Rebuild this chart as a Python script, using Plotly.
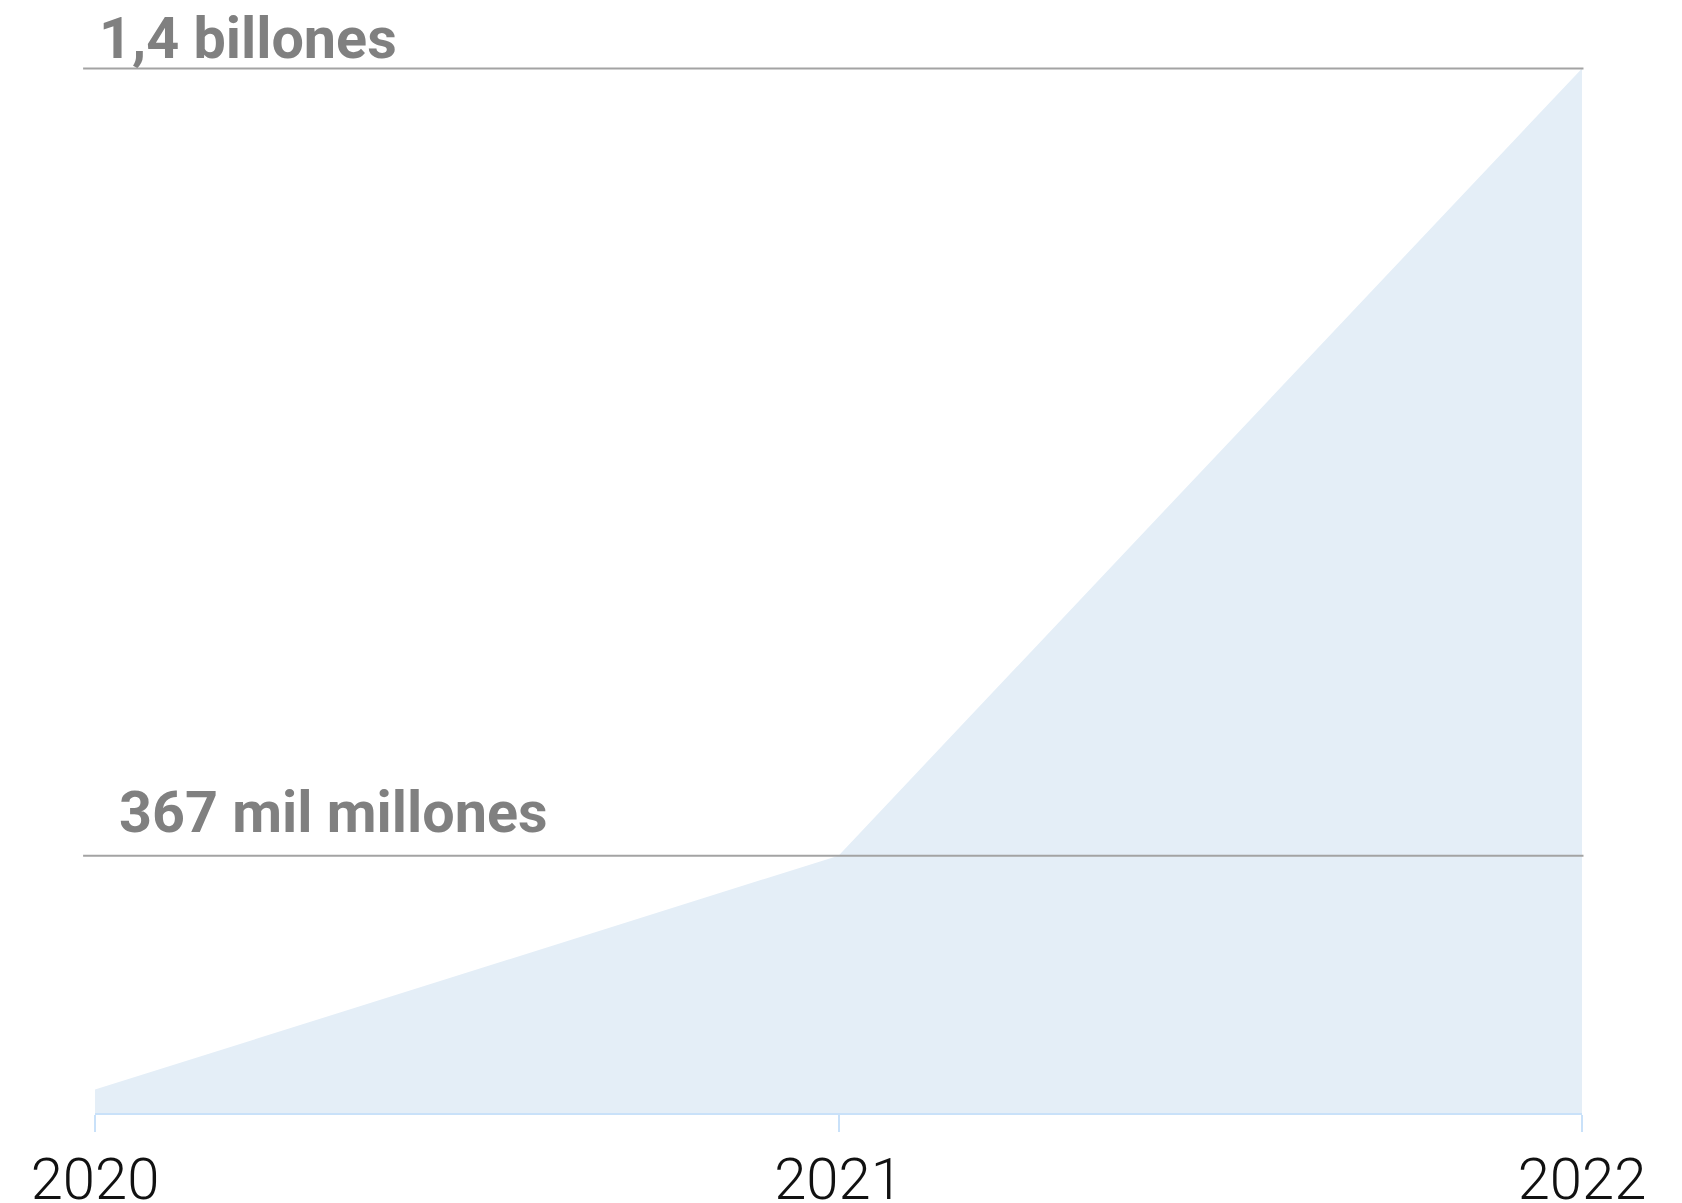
import plotly.graph_objects as go

# Data (values in "mil millones")
years = [2020, 2021, 2022]
values = [60, 367, 1400]
tick_labels = ["2020", "2021", "2022"]
ref_values = [1400, 367]
ref_labels = ["1,4 billones", "367 mil millones"]

fig = go.Figure()
fig.add_trace(go.Scatter(
    x=years, y=values, mode="lines", fill="tozeroy",
    fillcolor="#E4EEF7", line=dict(width=0, color="#E4EEF7"),
    hoverinfo="skip", showlegend=False,
))

label_shift = {1400: (1.5, -6), 367: (21.5, 8)}
for v, lab in zip(ref_values, ref_labels):
    fig.add_shape(type="line", xref="paper", yref="y",
                  x0=-0.008, x1=1.001, y0=v, y1=v,
                  line=dict(color="#A3A3A3", width=2))
    xs, ys = label_shift[v]
    fig.add_annotation(x=years[0], y=v, xref="x", yref="y", text=lab,
                       showarrow=False, xanchor="left", yanchor="bottom",
                       xshift=xs, yshift=ys,
                       font=dict(family="Roboto, sans-serif",
                                 size=57.5, color="#808080", weight="bold"))

fig.update_layout(
    width=1674, height=1195,
    margin=dict(l=87, r=100, t=52, b=90, autoexpand=False),
    paper_bgcolor="white", plot_bgcolor="white",
    xaxis=dict(range=[2020, 2022], tickvals=years, ticktext=tick_labels,
               showgrid=False, zeroline=False, showline=True,
               linecolor="#C9E1F9", linewidth=2, automargin=False,
               ticks="outside", ticklen=17, tickwidth=2, tickcolor="#C9E1F9",
               ticklabelstandoff=-3,
               tickfont=dict(family="Roboto, sans-serif", size=58,
                             color="#111111", weight=300)),
    yaxis=dict(range=[29.3, 1411], showgrid=False, zeroline=False,
               showticklabels=False, showline=False, automargin=False),
)

fig.write_html("out.html")
